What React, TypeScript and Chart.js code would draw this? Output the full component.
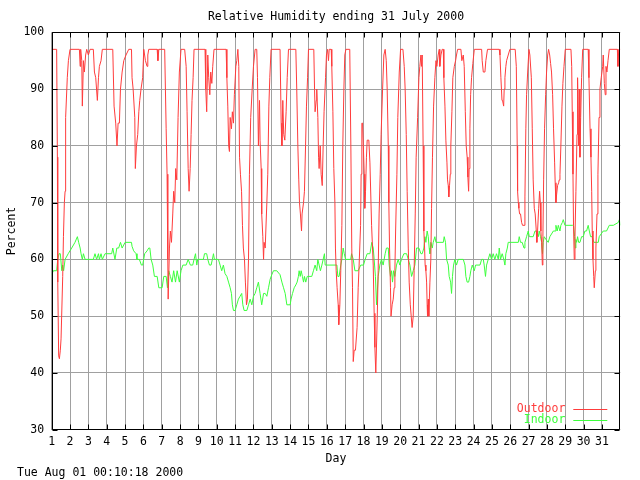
import React, { useEffect, useRef } from 'react';
import { Chart, registerables } from 'chart.js';

Chart.register(...registerables);

const TITLE = 'Relative Humidity ending 31 July 2000';
const FOOTER = 'Tue Aug 01 00:10:18 2000';
const X_LABEL = 'Day';
const Y_LABEL = 'Percent';
const SERIES_NAMES = ['Outdoor', 'Indoor'];
const SERIES_COLORS = ['#ff3c3c', '#3cff3c'];
const X_MIN = 1;
const X_MAX = 32;
const LAST_DAY_TICK = 31;
const Y_MIN = 30;
const Y_MAX = 100;
const Y_STEP = 10;

const outdoorDays = [
  1.0, 1.27, 1.31, 1.33, 1.38, 1.42, 1.47, 1.51, 1.56, 1.6, 1.64, 1.69, 1.73, 1.76, 1.85, 1.91, 2.0,
  2.51, 2.55, 2.58, 2.64, 2.67, 2.73, 2.78, 2.85, 2.91, 3.0, 3.09, 3.27, 3.33, 3.4, 3.49, 3.55, 3.6,
  3.69, 3.76, 4.33, 4.4, 4.49, 4.56, 4.62, 4.69, 4.75, 4.84, 4.93, 5.05, 5.2, 5.35, 5.38, 5.44, 5.53,
  5.56, 5.62, 5.69, 5.75, 5.8, 5.87, 5.96, 6.02, 6.11, 6.2, 6.24, 6.29, 6.75, 6.79, 6.84, 7.16, 7.24,
  7.29, 7.33, 7.35, 7.42, 7.47, 7.53, 7.6, 7.65, 7.71, 7.76, 7.82, 7.89, 7.96, 8.05, 8.25, 8.33, 8.38,
  8.44, 8.49, 8.55, 8.6, 8.65, 8.71, 8.76, 9.36, 9.4, 9.45, 9.51, 9.56, 9.62, 9.67, 9.73, 9.78, 9.85,
  10.51, 10.55, 10.6, 10.65, 10.69, 10.73, 10.8, 10.85, 10.91, 10.96, 11.04, 11.09, 11.15, 11.2, 11.24,
  11.29, 11.35, 11.4, 11.45, 11.51, 11.56, 11.62, 11.67, 11.73, 11.78, 11.85, 11.93, 12.0, 12.09, 12.18,
  12.22, 12.27, 12.33, 12.36, 12.42, 12.45, 12.51, 12.55, 12.58, 12.64, 12.73, 12.78, 12.84, 12.89,
  12.96, 13.45, 13.51, 13.55, 13.6, 13.65, 13.71, 13.78, 13.84, 13.91, 14.31, 14.36, 14.42, 14.47,
  14.51, 14.56, 14.62, 14.65, 14.73, 14.78, 14.84, 14.89, 14.95, 15.0, 15.29, 15.33, 15.36, 15.42,
  15.45, 15.51, 15.55, 15.58, 15.64, 15.69, 15.75, 15.8, 15.85, 15.93, 15.98, 16.04, 16.09, 16.13,
  16.24, 16.27, 16.33, 16.38, 16.44, 16.47, 16.51, 16.56, 16.62, 16.65, 16.71, 16.76, 16.82, 16.87,
  16.93, 16.98, 17.04, 17.25, 17.31, 17.36, 17.4, 17.44, 17.49, 17.56, 17.65, 17.71, 17.76, 17.84,
  17.87, 17.91, 17.95, 18.04, 18.07, 18.11, 18.16, 18.2, 18.29, 18.35, 18.44, 18.53, 18.58, 18.62,
  18.67, 18.75, 18.8, 18.85, 18.91, 18.96, 19.04, 19.11, 19.18, 19.24, 19.29, 19.35, 19.38, 19.42,
  19.47, 19.5, 19.56, 19.62, 19.67, 19.71, 19.75, 19.82, 19.87, 19.95, 20.02, 20.15, 20.22, 20.27,
  20.33, 20.38, 20.44, 20.49, 20.55, 20.6, 20.65, 20.71, 20.76, 20.82, 20.87, 20.95, 21.02, 21.07,
  21.13, 21.16, 21.2, 21.25, 21.29, 21.33, 21.36, 21.4, 21.44, 21.47, 21.49, 21.53, 21.56, 21.62,
  21.67, 21.71, 21.76, 21.82, 21.89, 21.95, 22.0, 22.07, 22.13, 22.16, 22.22, 22.29, 22.35, 22.38,
  22.44, 22.49, 22.55, 22.58, 22.62, 22.65, 22.69, 22.73, 22.76, 22.82, 22.87, 22.95, 23.02, 23.07,
  23.13, 23.31, 23.36, 23.44, 23.49, 23.55, 23.6, 23.65, 23.69, 23.73, 23.76, 23.8, 23.84, 23.89,
  23.96, 24.04, 24.44, 24.47, 24.53, 24.62, 24.67, 24.76, 25.4, 25.44, 25.49, 25.55, 25.58, 25.64,
  25.67, 25.71, 25.76, 25.8, 25.89, 25.98, 26.27, 26.33, 26.38, 26.4, 26.44, 26.47, 26.51, 26.56,
  26.62, 26.67, 26.75, 26.8, 26.85, 26.89, 26.95, 27.02, 27.07, 27.15, 27.2, 27.25, 27.31, 27.36,
  27.42, 27.45, 27.49, 27.55, 27.6, 27.64, 27.67, 27.71, 27.75, 27.78, 27.82, 27.87, 27.93, 27.98,
  28.04, 28.09, 28.15, 28.2, 28.25, 28.31, 28.36, 28.42, 28.45, 28.49, 28.53, 28.58, 28.64, 28.67,
  28.71, 28.76, 28.82, 28.87, 28.93, 29.0, 29.31, 29.35, 29.38, 29.42, 29.45, 29.49, 29.53, 29.58,
  29.64, 29.67, 29.73, 29.76, 29.8, 29.84, 29.89, 29.95, 30.25, 30.29, 30.35, 30.4, 30.44, 30.47,
  30.51, 30.55, 30.58, 30.64, 30.67, 30.73, 30.78, 30.84, 30.89, 30.96, 31.04, 31.07, 31.13, 31.18,
  31.22, 31.27, 31.33, 31.4, 31.84, 31.87, 31.9, 31.93, 32.0,
];

const outdoorValues = [
  97, 97, 78, 56, 43, 42.5, 44, 46, 46, 57, 64, 70, 72, 85, 92, 95, 97,
  97, 94, 97, 95, 87, 95, 93, 96, 97, 96, 97, 97, 93, 92, 88, 92, 94,
  95, 97, 97, 87, 84, 80, 84, 84, 90, 93, 95, 96, 97, 97, 92, 90, 85,
  76, 80, 82, 86, 88, 90, 92, 97, 95, 94, 96, 97, 97, 95, 97, 97, 83,
  75, 60, 53, 62, 65, 63, 68, 72, 70, 76, 74, 85, 93, 97, 97, 94, 86,
  76, 72, 76, 82, 88, 92, 97, 97, 90, 86, 96, 92, 89, 93, 91, 94, 97,
  97, 92, 87, 80, 79, 85, 83, 86, 84, 89, 94, 95, 97, 94, 78,
  75, 72, 66, 62, 60, 56, 52, 53, 60, 75, 85, 90, 94, 97, 97,
  92, 80, 88, 81, 76, 68, 64, 60, 63, 62, 70, 75, 87, 92,
  97, 97, 84, 80, 88, 82, 81, 86, 92, 97, 97, 90, 80, 74,
  70, 68, 65, 68, 70, 72, 80, 87, 92, 97, 97, 90, 86, 88,
  90, 85, 78, 76, 80, 75, 73, 80, 86, 92, 96, 97, 95, 97,
  97, 94, 86, 76, 70, 62, 58, 55, 52, 48.5, 52, 58, 66, 80,
  90, 96, 97, 97, 80, 62, 55, 42, 44, 44, 48, 55, 59, 66,
  75, 84, 84, 75, 69, 72, 78, 81, 81, 77, 66, 59, 50.5, 44.5,
  40, 50, 58, 68, 75, 82, 90, 96, 97, 95, 90, 80, 70, 62,
  55, 50, 52, 53, 55, 58, 65, 75, 85, 93, 97, 97, 94, 90,
  82, 72, 62, 56, 52, 50, 48, 50, 58, 68, 78, 85, 92, 94,
  96, 94, 96, 80, 65, 62, 59, 58, 56, 52, 50, 53, 50, 56,
  60, 69, 78, 87, 92, 95, 94, 96, 97, 94, 96, 97, 97, 92,
  87, 81, 77, 74, 73, 71, 73, 75, 80, 86, 92, 94, 95, 96,
  97, 97, 95, 96, 94, 86, 80, 78, 74.5, 72, 76, 83, 89, 92,
  94.5, 97, 97, 95, 93, 93, 95, 97, 97, 96, 92, 88, 88, 87,
  90, 92, 94, 95, 96, 97, 97, 94, 80, 72, 70, 69, 68, 68,
  66.5, 66, 66, 71, 83, 89, 93, 97, 96, 92, 83, 74, 69, 68,
  65, 63, 65, 69, 72, 70, 65, 63, 59, 64, 74, 83, 89, 93,
  96, 97, 96, 94.5, 93, 89, 83, 77, 73.5, 70, 71.5, 73, 73.5, 74,
  75, 80, 87, 91, 94, 97, 97, 94, 86, 75, 66, 60, 64, 72,
  82, 92, 80, 90, 78, 85, 92, 97, 97, 92, 83, 78, 72, 65,
  60, 57, 55, 58, 62, 68, 75, 85, 90, 92, 94, 96, 91, 89,
  94, 93, 95, 97, 97, 94, 96, 97, 97,
];

const indoorDays = [
  1.0, 1.09, 1.27, 1.33, 1.4, 1.47, 1.55, 1.6, 1.65, 1.73, 1.9, 2.09, 2.27, 2.4, 2.47, 2.55, 2.6,
  2.67, 2.73, 2.82, 3.27, 3.36, 3.45, 3.55, 3.6, 3.69, 3.76, 3.91, 4.27, 4.33, 4.45, 4.55, 4.65,
  4.75, 4.84, 5.0, 5.35, 5.38, 5.47, 5.6, 5.65, 5.78, 5.89, 5.96, 6.07, 6.2, 6.29, 6.35, 6.42, 6.51,
  6.6, 6.75, 6.84, 7.02, 7.11, 7.24, 7.31, 7.38, 7.47, 7.56, 7.65, 7.75, 7.84, 7.96, 8.05, 8.15,
  8.33, 8.44, 8.56, 8.69, 8.76, 8.84, 8.91, 8.96, 9.27, 9.33, 9.45, 9.51, 9.6, 9.69, 9.76, 9.82,
  9.87, 10.09, 10.18, 10.27, 10.36, 10.45, 10.55, 10.64, 10.73, 10.8, 10.85, 10.91, 11.0, 11.09,
  11.18, 11.27, 11.36, 11.42, 11.49, 11.64, 11.73, 11.82, 11.91, 12.0, 12.09, 12.18, 12.27, 12.36,
  12.45, 12.55, 12.64, 12.73, 12.82, 12.91, 13.0, 13.09, 13.27, 13.45, 13.55, 13.64, 13.73, 13.82,
  14.0, 14.05, 14.13, 14.22, 14.31, 14.38, 14.45, 14.49, 14.55, 14.6, 14.67, 14.73, 14.78, 14.85,
  14.93, 15.18, 15.27, 15.36, 15.45, 15.51, 15.58, 15.65, 15.73, 15.8, 15.87, 15.91, 16.55, 16.6,
  16.67, 16.71, 16.76, 16.82, 16.89, 16.95, 17.02, 17.3, 17.35, 17.44, 17.53, 17.71, 17.85, 18.0,
  18.09, 18.2, 18.35, 18.45, 18.53, 18.58, 18.65, 18.71, 18.8, 18.89, 18.98, 19.07, 19.18, 19.25,
  19.35, 19.4, 19.47, 19.53, 19.58, 19.64, 19.71, 19.8, 19.89, 19.98, 20.07, 20.2, 20.35, 20.44,
  20.53, 20.62, 20.71, 20.8, 20.89, 21.02, 21.13, 21.2, 21.29, 21.35, 21.4, 21.47, 21.53, 21.58,
  21.62, 21.67, 21.75, 21.8, 21.89, 21.95, 22.35, 22.4, 22.47, 22.53, 22.62, 22.67, 22.75, 22.8,
  22.85, 22.91, 22.98, 23.07, 23.16, 23.44, 23.53, 23.58, 23.65, 23.73, 23.8, 23.85, 23.93, 24.04,
  24.11, 24.35, 24.44, 24.53, 24.58, 24.65, 24.71, 24.8, 24.89, 24.98, 25.07, 25.16, 25.25, 25.35,
  25.4, 25.47, 25.56, 25.65, 25.71, 25.76, 25.84, 25.89, 26.44, 26.49, 26.56, 26.65, 26.75, 26.8,
  26.89, 26.98, 27.04, 27.25, 27.35, 27.44, 27.53, 27.58, 27.65, 27.71, 27.76, 27.8, 27.85, 27.95,
  28.07, 28.16, 28.35, 28.44, 28.49, 28.56, 28.62, 28.71, 28.76, 28.84, 28.89, 28.98, 29.4, 29.45,
  29.51, 29.55, 29.58, 29.62, 29.67, 29.73, 29.8, 29.89, 29.98, 30.07, 30.16, 30.25, 30.31, 30.38,
  30.47, 30.56, 30.8, 30.85, 31.07, 31.25, 31.4, 31.62, 31.89, 31.95, 32.0,
];

const indoorValues = [
  57.3, 58, 58, 60, 61, 61, 58, 59, 58, 60, 61, 62, 63, 64, 63, 62, 61,
  60, 61, 60, 60, 61, 60, 61, 60, 61, 60, 61, 61, 62, 60, 62, 62,
  63, 62, 63, 63, 62.3, 61.5, 61, 60, 60, 59, 59, 61, 61.5, 62, 62, 60, 59,
  57, 57, 55, 55, 57, 57, 55, 58, 57, 56, 58, 56, 58, 56, 58, 59,
  59, 60, 59, 59, 60, 61, 59, 60, 60, 61, 61, 60, 59, 59, 60, 61,
  60, 60, 59, 58, 59, 57.5, 57, 56, 55, 54, 52, 51, 51, 52,
  53, 53.5, 54, 52, 51, 51, 52, 53, 52, 53.5, 54, 55, 56, 54,
  52, 54, 54, 53.5, 55, 56.5, 57.3, 58, 58, 57.3, 56, 55, 54, 52,
  52, 53, 54, 55, 55.5, 56, 57, 58, 57, 58, 57, 56, 57, 56,
  57, 57, 58, 59, 58, 60, 59, 58, 59, 60, 61, 59, 59, 57,
  57, 57, 59, 60, 62, 61, 60, 60, 61, 60, 58, 58, 59, 59,
  60, 61, 61, 63, 62, 60, 57, 52, 57, 59, 60, 59, 61, 62,
  62, 59, 57, 58, 56, 58, 57, 59, 60, 59, 60, 61, 61, 60,
  59, 57, 58, 59, 62, 62, 61, 61, 62, 64, 63, 65, 64, 62,
  61, 63, 62, 63, 64, 63, 63, 64, 63, 60, 59, 57, 56, 54,
  57, 59, 60, 59, 60, 60, 59, 57, 56, 56, 57, 58, 59, 58,
  59, 59, 60, 60, 59, 57, 59, 60, 61, 60, 61, 60, 61, 60,
  62, 60, 61, 60, 59, 61, 62, 63, 63, 64, 63, 63, 62, 63,
  64, 65, 64, 64, 65, 65, 64, 65, 64, 63, 61, 63, 64, 63.5,
  63, 64, 65, 65, 66, 65, 66, 65, 66, 66.5, 67, 66, 66, 66,
  64, 62, 63.5, 63, 64, 63, 63, 64, 64, 65, 65, 66, 65, 64,
  64, 63, 63, 64, 65, 65, 66, 66, 66.5, 67, 66,
];

const FONT = { family: "'DejaVu Sans Mono', 'Liberation Mono', monospace", size: 11.5 };
const GRID_COLOR = '#a0a0a0';

const framePlugin = {
  id: 'gnuplotFrame',
  afterDraw(chart: any) {
    const { ctx, chartArea: a, scales } = chart;
    const xs = scales.x;
    const ys = scales.y;
    const tick = 5;
    ctx.save();
    ctx.strokeStyle = '#000000';
    ctx.lineWidth = 1;
    ctx.beginPath();
    const L = Math.round(a.left) + 0.5;
    const R = Math.round(a.right) - 0.5;
    const T = Math.round(a.top) + 0.5;
    const B = Math.round(a.bottom) - 0.5;
    ctx.rect(L, T, R - L, B - T);
    xs.ticks.forEach((t: any) => {
      const px = Math.round(xs.getPixelForValue(t.value)) + 0.5;
      ctx.moveTo(px, B);
      ctx.lineTo(px, B - tick);
      ctx.moveTo(px, T);
      ctx.lineTo(px, T + tick);
    });
    ys.ticks.forEach((t: any) => {
      const py = Math.round(ys.getPixelForValue(t.value)) + 0.5;
      ctx.moveTo(L, py);
      ctx.lineTo(L + tick, py);
      ctx.moveTo(R, py);
      ctx.lineTo(R - tick, py);
    });
    ctx.stroke();

    // legend (text right-aligned, then sample line)
    ctx.font = `${FONT.size}px ${FONT.family}`;
    ctx.textAlign = 'right';
    ctx.textBaseline = 'middle';
    chart.data.datasets.forEach((ds: any, i: number) => {
      const y = a.bottom - 21 + i * 11;
      ctx.fillStyle = ds.borderColor;
      ctx.fillText(ds.label, a.right - 55, y);
      ctx.strokeStyle = ds.borderColor;
      ctx.beginPath();
      ctx.moveTo(a.right - 47, Math.round(y) + 0.5);
      ctx.lineTo(a.right - 13, Math.round(y) + 0.5);
      ctx.stroke();
    });

    // footer time stamp
    ctx.fillStyle = '#000000';
    ctx.textAlign = 'left';
    ctx.fillText(FOOTER, 17, 473.5);
    ctx.restore();
  },
};

export default function App() {
  const ref = useRef<HTMLCanvasElement | null>(null);

  useEffect(() => {
    if (!ref.current) return;
    const outdoor = outdoorDays.map((d, i) => ({ x: d, y: outdoorValues[i] }));
    const indoor = indoorDays.map((d, i) => ({ x: d, y: indoorValues[i] }));
    const chart = new Chart(ref.current, {
      type: 'line',
      data: {
        datasets: [
          {
            label: SERIES_NAMES[0],
            data: outdoor,
            borderColor: SERIES_COLORS[0],
            borderWidth: 1,
            pointRadius: 0,
            tension: 0,
            fill: false,
          },
          {
            label: SERIES_NAMES[1],
            data: indoor,
            borderColor: SERIES_COLORS[1],
            borderWidth: 1,
            pointRadius: 0,
            tension: 0,
            fill: false,
          },
        ],
      },
      options: {
        responsive: false,
        animation: false,
        devicePixelRatio: 1,
        layout: { padding: { left: 0, right: 19.7, top: 0, bottom: 14.5 } },
        plugins: {
          legend: { display: false },
          tooltip: { enabled: false },
          title: {
            display: true,
            text: TITLE,
            fullSize: false,
            color: '#000000',
            font: { ...FONT, weight: 'normal' },
            padding: { top: 9.7, bottom: 8.8 },
          },
        },
        scales: {
          x: {
            type: 'linear',
            min: X_MIN,
            max: X_MAX,
            afterBuildTicks: (scale: any) => {
              scale.ticks = scale.ticks.filter((t: any) => t.value <= LAST_DAY_TICK);
            },
            afterFit: (scale: any) => {
              scale.height = 35.8;
            },
            ticks: {
              stepSize: 1,
              autoSkip: false,
              maxRotation: 0,
              padding: 5,
              color: '#000000',
              font: FONT,
            },
            grid: { color: GRID_COLOR, lineWidth: 1, drawTicks: false },
            border: { display: false },
            title: {
              display: true,
              text: X_LABEL,
              color: '#000000',
              font: FONT,
              padding: { top: 0, bottom: 0 },
            },
          },
          y: {
            type: 'linear',
            min: Y_MIN,
            max: Y_MAX,
            afterFit: (scale: any) => {
              scale.width = 51.7;
            },
            ticks: {
              stepSize: Y_STEP,
              padding: 7.5,
              color: '#000000',
              font: FONT,
            },
            grid: { color: GRID_COLOR, lineWidth: 1, drawTicks: false },
            border: { display: false },
            title: {
              display: true,
              text: Y_LABEL,
              color: '#000000',
              font: FONT,
              padding: { top: 5, bottom: 0 },
            },
          },
        },
      },
      plugins: [framePlugin],
    });
    return () => chart.destroy();
  }, []);

  return (
    <div style={{ position: 'absolute', left: 0, top: 0, width: 640, height: 480, background: '#ffffff' }}>
      <canvas ref={ref} width={640} height={480} />
    </div>
  );
}
